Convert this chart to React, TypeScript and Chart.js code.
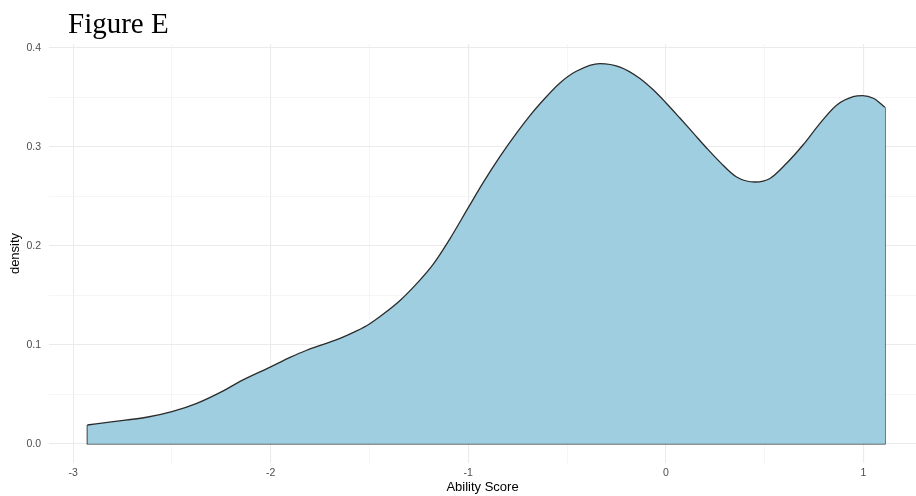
import React, { useEffect, useRef } from "react";
import { Chart, registerables } from "chart.js";

Chart.register(...registerables);

const titleText = "Figure E";
const xAxisTitle = "Ability Score";
const yAxisTitle = "density";

const densityX = [
  -2.928, -2.797, -2.628, -2.5, -2.374, -2.24, -2.155, -2.0, -1.902, -1.818,
  -1.734, -1.649, -1.565, -1.5, -1.43, -1.344, -1.26, -1.177, -1.093, -1.0,
  -0.924, -0.84, -0.755, -0.688, -0.637, -0.536, -0.451, -0.334, -0.232, -0.131,
  -0.064, 0.0, 0.071, 0.139, 0.206, 0.274, 0.358, 0.451, 0.527, 0.611,
  0.695, 0.78, 0.864, 0.948, 0.996, 1.05, 1.109,
];
const densityY = [
  0.019, 0.0223, 0.0268, 0.0325, 0.0409, 0.0535, 0.063, 0.0777, 0.0872, 0.0945,
  0.1005, 0.1065, 0.114, 0.121, 0.131, 0.145, 0.162, 0.1815, 0.207, 0.2385,
  0.264, 0.29, 0.314, 0.3315, 0.3435, 0.3645, 0.3765, 0.384, 0.3805, 0.369,
  0.3575, 0.3445, 0.329, 0.3138, 0.2988, 0.2845, 0.2695, 0.2644, 0.268, 0.2833,
  0.302, 0.3237, 0.342, 0.3506, 0.3516, 0.349, 0.34,
];

const xTicks = [-3, -2.5, -2, -1.5, -1, -0.5, 0, 0.5, 1];
const yTicks = [0, 0.05, 0.1, 0.15, 0.2, 0.25, 0.3, 0.35, 0.4];

const xLimits = [-3.122, 1.266];
const yLimits = [-0.0194, 0.4038];

const fillColor = "#9fcee0";
const lineColor = "#2b2b2b";

export default function App() {
  const ref = useRef<HTMLCanvasElement | null>(null);

  useEffect(() => {
    if (!ref.current) return;
    const curve = densityX.map((x, i) => ({ x, y: densityY[i] }));
    const n = densityX.length - 1;
    const outline = [
      { x: densityX[0], y: densityY[0] },
      { x: densityX[0], y: 0 },
      { x: densityX[n], y: 0 },
      { x: densityX[n], y: densityY[n] },
    ];

    const titlePlugin = {
      id: "figTitle",
      afterDraw(chart: any) {
        const c = chart.ctx;
        c.save();
        c.font = '29px "Liberation Serif", "Times New Roman", serif';
        c.fillStyle = "#000";
        c.textBaseline = "alphabetic";
        c.textAlign = "left";
        c.fillText(titleText, 68, 33);
        c.restore();
      },
    };

    const isMajor = (v: number) => Math.abs(v - Math.round(v)) < 1e-6;
    const isMajorY = (v: number) => Math.abs(v * 10 - Math.round(v * 10)) < 1e-6;

    const chart = new Chart(ref.current, {
      type: "line",
      data: {
        datasets: [
          {
            data: curve,
            parsing: false,
            fill: "origin",
            backgroundColor: fillColor,
            borderColor: lineColor,
            borderWidth: 1.3,
            pointRadius: 0,
            cubicInterpolationMode: "monotone",
          } as any,
          {
            data: outline,
            parsing: false,
            fill: false,
            borderColor: lineColor,
            borderWidth: 1.3,
            pointRadius: 0,
            tension: 0,
          } as any,
        ],
      },
      options: {
        animation: false,
        responsive: false,
        maintainAspectRatio: false,
        layout: { padding: { top: 44, left: 0, right: 0, bottom: 0 } },
        plugins: {
          legend: { display: false },
          tooltip: { enabled: false },
          title: { display: false },
        },
        scales: {
          x: {
            type: "linear",
            min: xLimits[0],
            max: xLimits[1],
            afterBuildTicks(scale: any) {
              scale.ticks = xTicks.map((v) => ({ value: v }));
            },
            afterFit(scale: any) {
              scale.height = 33;
            },
            ticks: {
              autoSkip: false,
              maxRotation: 0,
              padding: 4,
              color: "#4d4d4d",
              font: { family: '"Liberation Sans", Arial, sans-serif', size: 10.5 },
              callback: (v: any) => (isMajor(Number(v)) ? String(Number(v)) : ""),
            },
            grid: {
              drawTicks: false,
              color: (ctx: any) => (ctx.tick && isMajor(ctx.tick.value) ? "#ebebeb" : "#f2f2f2"),
              lineWidth: (ctx: any) => (ctx.tick && isMajor(ctx.tick.value) ? 1.1 : 0.8),
            },
            border: { display: false },
            title: {
              display: true,
              text: xAxisTitle,
              color: "#000",
              font: { family: '"Liberation Sans", Arial, sans-serif', size: 13 },
              padding: { top: 0, bottom: 1 },
            },
          },
          y: {
            type: "linear",
            min: yLimits[0],
            max: yLimits[1],
            afterBuildTicks(scale: any) {
              scale.ticks = yTicks.map((v) => ({ value: v }));
            },
            afterFit(scale: any) {
              scale.width = 49;
            },
            ticks: {
              autoSkip: false,
              padding: 8,
              color: "#4d4d4d",
              font: { family: '"Liberation Sans", Arial, sans-serif', size: 10.5 },
              callback: (v: any) => (isMajorY(Number(v)) ? Number(v).toFixed(1) : ""),
            },
            grid: {
              drawTicks: false,
              color: (ctx: any) => (ctx.tick && isMajorY(ctx.tick.value) ? "#ebebeb" : "#f2f2f2"),
              lineWidth: (ctx: any) => (ctx.tick && isMajorY(ctx.tick.value) ? 1.1 : 0.8),
            },
            border: { display: false },
            title: {
              display: true,
              text: yAxisTitle,
              color: "#000",
              font: { family: '"Liberation Sans", Arial, sans-serif', size: 13 },
              padding: { top: 8, bottom: 0 },
            },
          },
        },
      },
      plugins: [titlePlugin],
    });
    return () => chart.destroy();
  }, []);

  return (
    <div style={{ position: "absolute", left: 0, top: 0, width: 916, height: 496, background: "#fff" }}>
      <canvas ref={ref} width={916} height={496} style={{ display: "block" }} />
    </div>
  );
}
